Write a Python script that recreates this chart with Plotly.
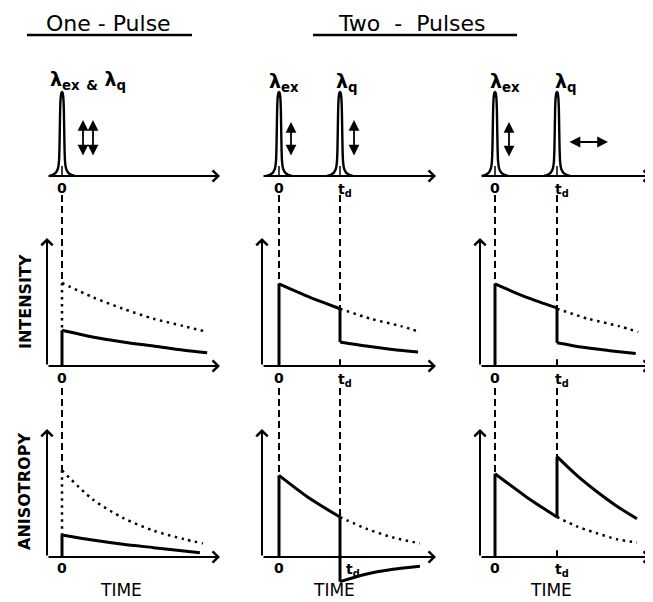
import plotly.graph_objects as go

W, H = 653, 602          # size of the reference picture
OFF = 8                  # page body margin of the written html
WF, HF = W - OFF, H - OFF  # figure size so that the figure fits the window

# ---------------- data ----------------
TD = 1.0  # delay between the two pulses (time units)

# pulse profile (offset from pulse centre, relative height)
PULSE_DT = [-0.21, -0.16, -0.10, -0.066, -0.05, -0.042, -0.036, -0.030, -0.022, -0.012, 0.0,
            0.012, 0.022, 0.030, 0.036, 0.042, 0.05, 0.066, 0.10, 0.16, 0.21]
PULSE_H = [0.0, 0.012, 0.04, 0.09, 0.17, 0.32, 0.55, 0.80, 0.93, 0.985, 1.0,
           0.985, 0.93, 0.80, 0.55, 0.32, 0.17, 0.09, 0.04, 0.012, 0.0]
PULSE_TIMES = [[0.0], [0.0, TD], [0.0, TD]]

# intensity: unquenched decay (dotted)
INT_FREE_T = [0.0, 0.5, 1.0, 1.5, 2.0, 2.33]
INT_FREE_V = [1.0, 0.83, 0.69, 0.57, 0.48, 0.42]
INT_FREE_TAIL_T = [1.0, 1.5, 2.0, 2.31]
INT_FREE_TAIL_V = [0.69, 0.57, 0.48, 0.41]
# one pulse
INT1_T = [0.0, 0.5, 1.0, 1.5, 2.0, 2.38]
INT1_V = [0.43, 0.35, 0.29, 0.24, 0.19, 0.16]
# two pulses, parallel quench
INT2A_T = [0.0, 0.5, 1.0]
INT2A_V = [0.99, 0.83, 0.69]
INT2B_T = [1.0, 1.43, 1.86, 2.28]
INT2B_V = [0.29, 0.24, 0.20, 0.17]
# two pulses, perpendicular quench
INT3A_T = [0.0, 0.5, 1.0]
INT3A_V = [0.99, 0.83, 0.70]
INT3B_T = [1.0, 1.42, 1.85, 2.27]
INT3B_V = [0.28, 0.225, 0.185, 0.15]

# anisotropy
ANI1_FREE_T = [0.0, 0.5, 1.0, 1.5, 2.0, 2.31]
ANI1_FREE_V = [1.02, 0.68, 0.46, 0.31, 0.21, 0.16]
ANI1_T = [0.0, 0.5, 1.0, 1.5, 2.0, 2.26]
ANI1_V = [0.26, 0.20, 0.15, 0.11, 0.07, 0.05]
ANI2A_T = [0.0, 0.5, 1.0]
ANI2A_V = [0.96, 0.69, 0.47]
ANI2B_T = [1.0, 1.44, 1.87, 2.31]
ANI2B_V = [-0.29, -0.20, -0.145, -0.11]
ANI2_FREE_T = [1.0, 1.44, 1.87, 2.31]
ANI2_FREE_V = [0.47, 0.33, 0.23, 0.16]
ANI3A_T = [0.0, 0.5, 1.0]
ANI3A_V = [0.98, 0.71, 0.47]
ANI3B_T = [1.0, 1.32, 1.64, 1.96, 2.29]
ANI3B_V = [1.18, 0.96, 0.77, 0.60, 0.45]
ANI3_FREE_T = [1.0, 1.32, 1.64, 1.96, 2.29]
ANI3_FREE_V = [0.47, 0.36, 0.28, 0.21, 0.17]

TITLES = ["One - Pulse", "Two&nbsp; - &nbsp;Pulses"]
ROW_LABELS = ["INTENSITY", "ANISOTROPY"]
X_LABEL = "TIME"

# ---------------- layout geometry (reference pixels) ----------------
COLS = [dict(px0=62, ppu=61), dict(px0=279, ppu=61), dict(px0=495, ppu=62)]
ROWS = [dict(base=176, unit=84), dict(base=366, unit=83), dict(base=557, unit=85)]
YAXIS_PX = [47, 262, 480]
XTIP_PX = [220, 436, 651]
YTIP_PX = [None, 238, 429]
LABEL_PY = [188, 378, 568]
GAP_PY = [None, 195, 388]

BLACK = "black"
FONT = "DejaVu Sans"


def xa(c):
    return "x" if c == 0 else f"x{c + 1}"


def ya(r):
    return "y" if r == 0 else f"y{r + 1}"


def t_of(c, px):
    return (px - COLS[c]["px0"]) / COLS[c]["ppu"]


def v_of(r, py):
    return (ROWS[r]["base"] - py) / ROWS[r]["unit"]


def pxp(px):
    return (px - OFF) / WF


def pyp(py):
    return 1 - (py - OFF) / HF


fig = go.Figure()

SOLID = dict(color=BLACK, width=3)
DOT = dict(color=BLACK, width=2.5, dash="2.5px,4.5px")
DASH = dict(color=BLACK, width=2, dash="7px,4px")


def add(c, r, xs, ys, line, shape="linear"):
    ln = dict(line, shape=shape)
    if shape == "spline":
        ln["smoothing"] = 0.8
    fig.add_trace(go.Scatter(x=xs, y=ys, xaxis=xa(c), yaxis=ya(r), mode="lines",
                             line=ln, hoverinfo="skip", showlegend=False))


# pulses
for c in range(3):
    for tp in PULSE_TIMES[c]:
        fig.add_trace(go.Scatter(x=[tp + d for d in PULSE_DT], y=PULSE_H, xaxis=xa(c), yaxis=ya(0),
                                 mode="lines", fill="toself", fillcolor="white",
                                 line=dict(color=BLACK, width=2.4, shape="spline", smoothing=0.6),
                                 hoverinfo="skip", showlegend=False))
        add(c, 0, [tp, tp], [0, 0.12], dict(color=BLACK, width=1.5))

# dashed connectors between rows
targets = {
    0: [(0.0, INT_FREE_V[0], ANI1_FREE_V[0])],
    1: [(0.0, INT2A_V[0], ANI2A_V[0]), (TD, INT2A_V[-1], ANI2A_V[-1])],
    2: [(0.0, INT3A_V[0], ANI3A_V[0]), (TD, INT3A_V[-1], ANI3B_V[0])],
}
for c, lst in targets.items():
    for (tt, vi, va) in lst:
        add(c, 1, [tt, tt], [v_of(1, GAP_PY[1]), vi], DASH)
        add(c, 2, [tt, tt], [v_of(2, GAP_PY[2]), va], DASH)

# column 1 (one pulse)
add(0, 1, [0, 0], [INT_FREE_V[0], INT1_V[0]], DOT)
add(0, 1, INT_FREE_T, INT_FREE_V, DOT, "spline")
add(0, 1, [0, 0], [0, INT1_V[0]], SOLID)
add(0, 1, INT1_T, INT1_V, SOLID, "spline")
add(0, 2, [0, 0], [ANI1_FREE_V[0], ANI1_V[0]], DOT)
add(0, 2, ANI1_FREE_T, ANI1_FREE_V, DOT, "spline")
add(0, 2, [0, 0], [0, ANI1_V[0]], SOLID)
add(0, 2, ANI1_T, ANI1_V, SOLID, "spline")

# column 2 (parallel quench)
add(1, 1, [0, 0], [0, INT2A_V[0]], SOLID)
add(1, 1, INT2A_T, INT2A_V, SOLID, "spline")
add(1, 1, [TD, TD], [INT2A_V[-1], INT2B_V[0]], SOLID)
add(1, 1, INT2B_T, INT2B_V, SOLID, "spline")
add(1, 1, INT_FREE_TAIL_T, INT_FREE_TAIL_V, DOT, "spline")
add(1, 1, [TD, TD], [0, 0.08], dict(color=BLACK, width=2))
add(1, 2, [0, 0], [0, ANI2A_V[0]], SOLID)
add(1, 2, ANI2A_T, ANI2A_V, SOLID, "spline")
add(1, 2, [TD, TD], [ANI2A_V[-1], ANI2B_V[0]], SOLID)
add(1, 2, ANI2B_T, ANI2B_V, SOLID, "spline")
add(1, 2, ANI2_FREE_T, ANI2_FREE_V, DOT, "spline")

# column 3 (perpendicular quench)
add(2, 1, [0, 0], [0, INT3A_V[0]], SOLID)
add(2, 1, INT3A_T, INT3A_V, SOLID, "spline")
add(2, 1, [TD, TD], [INT3A_V[-1], INT3B_V[0]], SOLID)
add(2, 1, INT3B_T, INT3B_V, SOLID, "spline")
add(2, 1, INT_FREE_TAIL_T, INT_FREE_TAIL_V, DOT, "spline")
add(2, 1, [TD, TD], [0, 0.08], dict(color=BLACK, width=2))
add(2, 2, [0, 0], [0, ANI3A_V[0]], SOLID)
add(2, 2, ANI3A_T, ANI3A_V, SOLID, "spline")
add(2, 2, [TD, TD], [ANI3A_V[-1], ANI3B_V[0]], SOLID)
add(2, 2, ANI3B_T, ANI3B_V, SOLID, "spline")
add(2, 2, ANI3_FREE_T, ANI3_FREE_V, DOT, "spline")
add(2, 2, [TD, TD], [0, 0.08], dict(color=BLACK, width=2))

ann = []


def text(px, py, s, font, **kw):
    d = dict(xref="paper", yref="paper", x=pxp(px), y=pyp(py), text=s, showarrow=False,
             xanchor="center", yanchor="middle", font=font)
    d.update(kw)
    ann.append(d)


# axis arrows
for c in range(3):
    t0 = t_of(c, YAXIS_PX[c])
    t1 = t_of(c, XTIP_PX[c])
    for r in range(3):
        ann.append(dict(xref=xa(c), yref=ya(r), axref=xa(c), ayref=ya(r), x=t1, y=0, ax=t0, ay=0,
                        text="", showarrow=True, arrowhead=4, arrowsize=1.1, arrowwidth=2,
                        arrowcolor=BLACK, standoff=0))
        if r > 0:
            ann.append(dict(xref=xa(c), yref=ya(r), axref=xa(c), ayref=ya(r), x=t0,
                            y=v_of(r, YTIP_PX[r]), ax=t0, ay=0, text="", showarrow=True,
                            arrowhead=4, arrowsize=1.1, arrowwidth=2, arrowcolor=BLACK, standoff=0))

# 0 / td labels
LF = dict(family=FONT, size=14, color=BLACK)
for c in range(3):
    for r in range(3):
        ann.append(dict(xref=xa(c), yref="paper", x=0, y=pyp(LABEL_PY[r]), text="<b>0</b>",
                        showarrow=False, xanchor="center", yanchor="middle", font=LF))
        if c > 0:
            dx = 13 if (c == 1 and r == 2) else 5
            ann.append(dict(xref=xa(c), yref="paper", x=TD, xshift=dx, y=pyp(LABEL_PY[r] + 2),
                            text="<b>t<sub>d</sub></b>", showarrow=False, xanchor="center",
                            yanchor="middle", font=LF))

# lambda labels
LAM = dict(family=FONT, size=19, color=BLACK)
text(88, 81, "<b>λ<sub>ex</sub> <sub>&amp;</sub> λ<sub>q</sub></b>", LAM)
for pex, pq in [(284, 347), (505, 566)]:
    text(pex, 82, "<b>λ<sub>ex</sub></b>", LAM)
    text(pq, 82, "<b>λ<sub>q</sub></b>", LAM)

# polarization arrows
ARW = dict(xref="paper", yref="paper", text="", showarrow=True, arrowside="end+start",
           arrowhead=2, startarrowhead=2, arrowsize=1.2, startarrowsize=1.2, arrowwidth=1.8,
           arrowcolor=BLACK, standoff=0, startstandoff=0)
for px, top, bot in [(83, 120, 157), (93, 120, 157), (291, 122, 157), (354, 120, 157), (509, 122, 158)]:
    ann.append(dict(ARW, x=pxp(px), y=pyp(top), ax=0, ay=bot - top))
ann.append(dict(ARW, x=pxp(608), y=pyp(142), ax=-40, ay=0))

# titles
TF = dict(family=FONT, size=22, color=BLACK)
text(108, 24, TITLES[0], TF)
text(412, 24, TITLES[1], TF)

# row labels
RF = dict(family=FONT, size=16, color=BLACK)
text(25, 302, f"<b>{ROW_LABELS[0]}</b>", RF, textangle=-90)
text(24, 492, f"<b>{ROW_LABELS[1]}</b>", RF, textangle=-90)

# time labels
for px in [121, 334, 551]:
    text(px, 590, X_LABEL, dict(family=FONT, size=17, color=BLACK))

shapes = [
    dict(type="line", xref="paper", yref="paper", x0=pxp(27), x1=pxp(192), y0=pyp(35), y1=pyp(35),
         line=dict(color=BLACK, width=2.5)),
    dict(type="line", xref="paper", yref="paper", x0=pxp(313), x1=pxp(517), y0=pyp(35), y1=pyp(35),
         line=dict(color=BLACK, width=2.5)),
]

layout = dict(width=WF, height=HF, margin=dict(l=0, r=0, t=0, b=0), paper_bgcolor="white",
              plot_bgcolor="white", showlegend=False, annotations=ann, shapes=shapes)
for c in range(3):
    key = "xaxis" if c == 0 else f"xaxis{c + 1}"
    px0, ppu = COLS[c]["px0"] - OFF, COLS[c]["ppu"]
    d = dict(range=[-px0 / ppu, (WF - px0) / ppu], domain=[0, 1], visible=False, fixedrange=True,
             anchor="y")
    if c > 0:
        d["overlaying"] = "x"
    layout[key] = d
for r in range(3):
    key = "yaxis" if r == 0 else f"yaxis{r + 1}"
    base, unit = ROWS[r]["base"] - OFF, ROWS[r]["unit"]
    d = dict(range=[(base - HF) / unit, base / unit], domain=[0, 1], visible=False, fixedrange=True,
             anchor="x")
    if r > 0:
        d["overlaying"] = "y"
    layout[key] = d

fig.update_layout(**layout)
fig.write_html("out.html")
